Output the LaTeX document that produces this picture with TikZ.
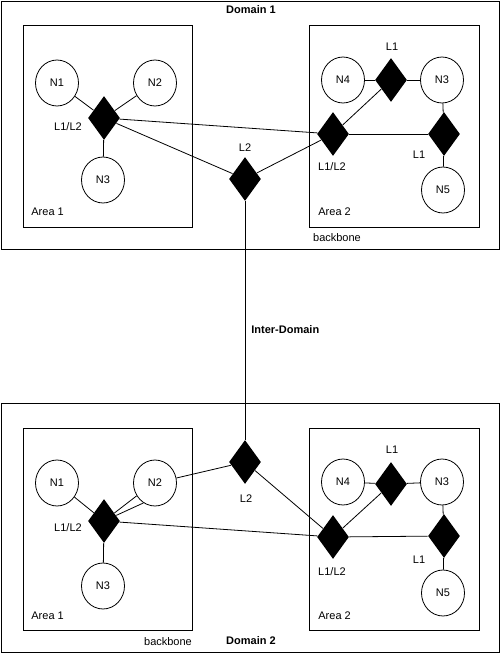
\documentclass[tikz,border=0pt]{standalone}
\usepackage{fontspec}
\setmainfont{Liberation Sans}
\usetikzlibrary{shapes.geometric}
\begin{document}
\begin{tikzpicture}[x=1pt, y=-1pt, line width=0.8pt,
    font=\fontsize{11}{13}\selectfont,
    host/.style = {shape=ellipse, draw, minimum width=43pt,
      minimum height=46pt, inner sep=0pt},
    router/.style = {shape=diamond, fill=black, minimum width=32pt,
      minimum height=44pt, inner sep=0pt},
    lbl/.style = {inner sep=0pt},
    title/.style = {inner sep=0pt, font=\fontsize{11}{13}\selectfont\bfseries}]
    \useasboundingbox (0,0) rectangle (500,653);
    % Domain 1
    \draw (1,1) rectangle (499,249);
    \draw (23,25) rectangle (192,227);
    \draw (309,25) rectangle (479,227);
    \node[title] (dom1) at (251,10) {Domain 1};
    \node[lbl, anchor=west] (ar1a) at (31,212) {Area 1};
    \node[lbl, anchor=west] (ar2a) at (318,212) {Area 2};
    \node[lbl] (bba) at (337,238) {backbone};
    \node[host] (n1a) at (57,83) {N1};
    \node[host] (n2a) at (155,83) {N2};
    \node[host] (n3a) at (103,180) {N3};
    \node[router] (r12a) at (104,118) {};
    \node[lbl] (t12a) at (68,127) {L1/L2};
    \node[router] (r2a) at (245,179) {};
    \node[lbl] (t2a) at (245,148) {L2};
    \node[host] (n4a) at (343,80) {N4};
    \node[router] (r1a) at (391,80) {};
    \node[lbl] (t1a) at (392,47) {L1};
    \node[host] (n5a) at (442,80) {N3};
    \node[router] (rr12a) at (333,134) {};
    \node[lbl] (tt12a) at (332,167) {L1/L2};
    \node[router] (rr1a) at (444,134) {};
    \node[lbl] (tt1a) at (419,155) {L1};
    \node[host] (n6a) at (443,190) {N5};
    \draw (n1a) -- (r12a);
    \draw (n2a) -- (r12a);
    \draw (r12a) -- (n3a);
    \draw (r12a) -- (rr12a);
    \draw (r12a) -- (r2a);
    \draw (r2a) -- (rr12a);
    \draw (rr12a) -- (r1a);
    \draw (n4a) -- (r1a) -- (n5a);
    \draw (rr12a) -- (rr1a);
    \draw (n5a) -- (rr1a) -- (n6a);
    % Domain 2
    \draw (1,403) rectangle (499,652);
    \draw (23,428) rectangle (192,630);
    \draw (309,428) rectangle (479,630);
    \node[title] (dom2) at (251,641) {Domain 2};
    \node[lbl, anchor=west] (ar1b) at (31,616) {Area 1};
    \node[lbl, anchor=west] (ar2b) at (318,616) {Area 2};
    \node[lbl] (bbb) at (168,642) {backbone};
    \node[host] (n1b) at (57,483) {N1};
    \node[host] (n2b) at (155,483) {N2};
    \node[host] (n3b) at (103,586) {N3};
    \node[router] (r12b) at (104,521) {};
    \node[lbl] (t12b) at (68,528) {L1/L2};
    \node[router] (r2b) at (245,462) {};
    \node[lbl] (t2b) at (246,499) {L2};
    \node[host] (n4b) at (343,482) {N4};
    \node[router] (r1b) at (391,484) {};
    \node[lbl] (t1b) at (392,450) {L1};
    \node[host] (n5b) at (442,482) {N3};
    \node[router] (rr12b) at (333,537) {};
    \node[lbl] (tt12b) at (332,572) {L1/L2};
    \node[router] (rr1b) at (444,536) {};
    \node[lbl] (tt1b) at (419,560) {L1};
    \node[host] (n6b) at (443,593) {N5};
    \draw (n1b) -- (r12b);
    \draw (n2b.215) -- (r12b);
    \draw (n2b.240) -- (r12b);
    \draw (n2b) -- (r2b);
    \draw (r12b) -- (n3b);
    \draw (r12b) -- (rr12b);
    \draw (r2b) -- (rr12b);
    \draw (rr12b) -- (r1b);
    \draw (n4b) -- (r1b) -- (n5b);
    \draw (rr12b) -- (rr1b);
    \draw (n5b) -- (rr1b) -- (n6b);
    % Inter-Domain
    \draw (r2a) -- (r2b);
    \node[title, anchor=west] (inter) at (251,330) {Inter-Domain};
\end{tikzpicture}
\end{document}
